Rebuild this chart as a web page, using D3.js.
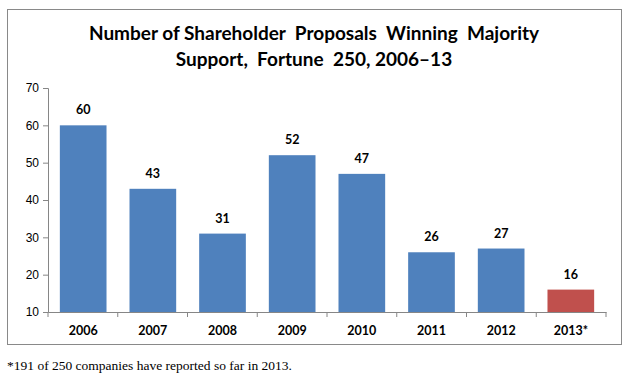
<!DOCTYPE html>
<html><head><meta charset="utf-8">
<script src="https://cdn.jsdelivr.net/npm/d3@7"></script>
<style>body{margin:0;background:#fff;}svg{display:block;}</style>
</head><body>
<script>
const categories = ["2006","2007","2008","2009","2010","2011","2012","2013*"];
const values = [60,43,31,52,47,26,27,16];
const barColors = ["#4F81BD","#4F81BD","#4F81BD","#4F81BD","#4F81BD","#4F81BD","#4F81BD","#C0504D"];
const yTicks = [10,20,30,40,50,60,70];
const titleLines = ["Number of Shareholder  Proposals  Winning  Majority","Support,  Fortune  250, 2006\u201313"];
const footnote = "*191 of 250 companies have reported so far in 2013.";

const W = 629, H = 378;
const svg = d3.select("body").append("svg").attr("width", W).attr("height", H);

svg.append("rect").attr("x", 7.5).attr("y", 9.5).attr("width", 614).attr("height", 335)
  .attr("fill", "#fff").attr("stroke", "#898989").attr("stroke-width", 1);

const x0 = 48, x1 = 606;
const x = d3.scaleBand().domain(categories).range([x0, x1]).paddingInner(0.33).paddingOuter(0.17);
const y = d3.scaleLinear().domain([10, 70]).range([312, 88]);

svg.append("g").selectAll("text").data(titleLines).join("text")
  .attr("x", 314).attr("y", (d, i) => 40 + i * 26)
  .attr("text-anchor", "middle").attr("font-family", "Lato, 'Open Sans', sans-serif")
  .attr("font-weight", "bold").attr("font-size", 19).attr("fill", "#000")
  .attr("xml:space", "preserve").style("white-space", "pre").text(d => d);

svg.append("g").selectAll("rect").data(values).join("rect")
  .attr("x", (d, i) => x(categories[i])).attr("width", x.bandwidth())
  .attr("y", d => y(d)).attr("height", d => y(10) - y(d))
  .attr("fill", (d, i) => barColors[i]);

svg.append("g").selectAll("text").data(values).join("text")
  .attr("x", (d, i) => x(categories[i]) + x.bandwidth() / 2)
  .attr("y", d => y(d) - 11)
  .attr("text-anchor", "middle").attr("font-family", "Lato, 'Open Sans', sans-serif")
  .attr("font-weight", "bold").attr("font-size", 12.5).attr("fill", "#000")
  .text(d => d);

const yAxis = svg.append("g").attr("transform", `translate(${x0},0)`)
  .call(d3.axisLeft(y).tickValues(yTicks).tickSize(5).tickPadding(4));
yAxis.select(".domain").attr("stroke", "#868686");
yAxis.selectAll(".tick line").attr("stroke", "#868686");
yAxis.selectAll("text").attr("font-family", "'Liberation Sans', Arial, sans-serif").attr("font-size", 12).attr("fill", "#000");

const xAxis = svg.append("g").attr("transform", "translate(0,312)")
  .call(d3.axisBottom(x).tickSize(0).tickPadding(14));
xAxis.select(".domain").attr("stroke", "#868686");
xAxis.selectAll("text").attr("font-family", "Lato, 'Open Sans', sans-serif").attr("font-weight", "bold").attr("font-size", 12.5).attr("fill", "#000");
const bounds = d3.range(categories.length + 1).map(i => x0 + i * ((x1 - x0) / categories.length));
svg.append("g").selectAll("line").data(bounds).join("line")
  .attr("x1", d => d).attr("x2", d => d).attr("y1", 312).attr("y2", 317)
  .attr("stroke", "#868686");

svg.append("text").attr("x", 7).attr("y", 370)
  .attr("font-family", "'Liberation Serif', 'Times New Roman', serif").attr("font-size", 13.5)
  .attr("fill", "#000").text(footnote);
</script>
</body></html>
